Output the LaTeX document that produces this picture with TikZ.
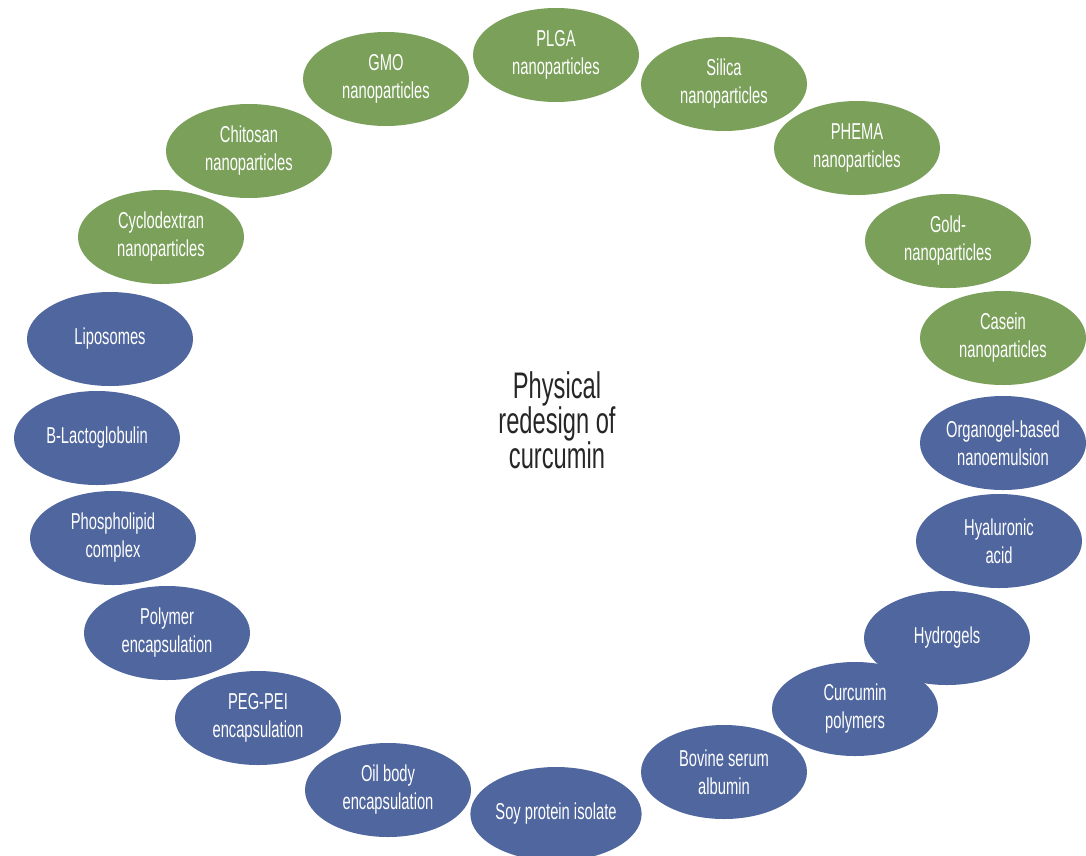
\documentclass[tikz,border=0pt]{standalone}
\usepackage{fontspec}
\setmainfont{Liberation Sans}[FakeStretch=0.64]
\usetikzlibrary{shapes.geometric}
\definecolor{leaf}{RGB}{122,160,90}
\definecolor{slate}{RGB}{80,102,158}
\tikzset{
  bubble/.style={ellipse, minimum width=166pt, minimum height=94pt, inner sep=0pt,
    text=white, align=center, font=\fontsize{23}{28}\selectfont},
  greenbub/.style={bubble, fill=leaf},
  bluebub/.style={bubble, fill=slate},
}
\begin{document}
\begin{tikzpicture}[x=1pt,y=-1pt]
\useasboundingbox (0,0) rectangle (1086,855);
% nanoparticle carriers
\node[greenbub] (plga)  at (556,55)  {PLGA\\nanoparticles};
\node[greenbub] (gmo)   at (386,79)  {GMO\\nanoparticles};
\node[greenbub] (sil)   at (724,84)  {Silica\\nanoparticles};
\node[greenbub] (chi)   at (249,151) {Chitosan\\nanoparticles};
\node[greenbub] (phema) at (857,148) {PHEMA\\nanoparticles};
\node[greenbub] (cyc)   at (161,237) {Cyclodextran\\nanoparticles};
\node[greenbub] (gold)  at (948,241) {Gold-\\nanoparticles};
\node[greenbub] (cas)   at (1003,338) {Casein\\nanoparticles};
% other delivery systems
\node[bluebub] (lip)  at (110,339) {Liposomes};
\node[bluebub] (blg)  at (97,438)  {B-Lactoglobulin};
\node[bluebub] (phos) at (113,538) {Phospholipid\\complex};
\node[bluebub] (poly) at (167,633) {Polymer\\encapsulation};
\node[bluebub] (peg)  at (258,718) {PEG-PEI\\encapsulation};
\node[bluebub] (oil)  at (388,790) {Oil body\\encapsulation};
\node[bluebub] (soy)  at (556,814) {Soy protein isolate};
\node[bluebub] (bsa)  at (724,772) {Bovine serum\\albumin};
\node[bluebub] (cpol) at (855,709) {Curcumin\\polymers};
\node[bluebub] (hyd)  at (947,638) {Hydrogels};
\node[bluebub] (hya)  at (999,541) {Hyaluronic\\acid};
\node[bluebub] (org)  at (1003,443) {Organogel-based\\nanoemulsion};
% centre label
\node[align=center, text=black!85, font=\fontsize{37}{35}\selectfont] (title) at (557,420)
  {Physical\\redesign of\\curcumin};
\end{tikzpicture}
\end{document}
